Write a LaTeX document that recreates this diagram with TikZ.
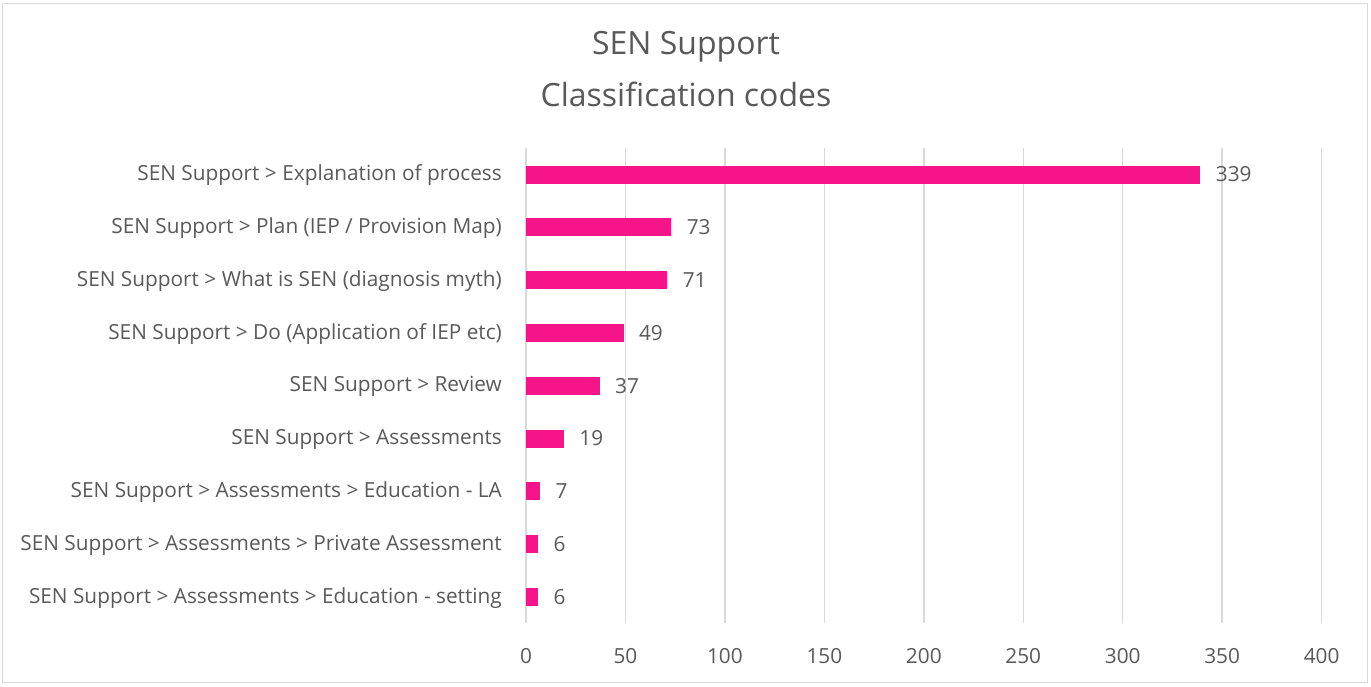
\documentclass[tikz,border=0pt]{standalone}
\usepackage{fontspec}
\setmainfont{Open Sans}
\definecolor{barpink}{HTML}{F5148A}
\definecolor{txt}{HTML}{595959}
\definecolor{gridc}{HTML}{D9D9D9}
\begin{document}
\begin{tikzpicture}[x=1pt,y=-1pt,
  border/.style={draw=gridc, line width=1.2pt},
  gridline/.style={draw=gridc, line width=1.5pt},
  bar/.style={fill=barpink, draw=none, inner sep=0pt, minimum height=18pt, anchor=west},
  cat/.style={text=txt, font=\fontsize{20.8}{24}\selectfont, anchor=east, inner sep=0pt},
  val/.style={text=txt, font=\fontsize{20.8}{24}\selectfont, anchor=west, inner sep=0pt},
  tick/.style={text=txt, font=\fontsize{20.8}{24}\selectfont, inner sep=0pt},
  ttl/.style={text=txt, font=\fontsize{32}{38}\selectfont, inner sep=0pt}]
\useasboundingbox (0,0) rectangle (1371,686);
\draw[border] (2.5,3.5) rectangle (1367.5,682.5);
\node[ttl] (t1) at (686,47) {SEN Support};
\node[ttl] (t2) at (686,94) {Classification codes};
\foreach \i in {0,...,8} {
  \pgfmathsetmacro{\gx}{526+99.45*\i}
  \pgfmathtruncatemacro{\lab}{50*\i}
  \coordinate (gtop\i) at (\gx,148);
  \coordinate (gbot\i) at (\gx,623);
  \draw[gridline] (gtop\i) -- (gbot\i);
  \node[tick] (tick\i) at (\gx,656) {\lab};
}
\foreach \v/\name [count=\k from 0] in {
  339/{SEN Support > Explanation of process},
  73/{SEN Support > Plan (IEP / Provision Map)},
  71/{SEN Support > What is SEN (diagnosis myth)},
  49/{SEN Support > Do (Application of IEP etc)},
  37/{SEN Support > Review},
  19/{SEN Support > Assessments},
  7/{SEN Support > Assessments > Education - LA},
  6/{SEN Support > Assessments > Private Assessment},
  6/{SEN Support > Assessments > Education - setting}} {
  \pgfmathsetmacro{\ry}{175.5+52.8*\k}
  \pgfmathsetmacro{\bw}{1.989*\v}
  \node[cat] (c\k) at (502,\ry) {\name};
  \node[bar, minimum width=\bw pt] (b\k) at (526,\ry-1) {};
  \node[val] (v\k) at ([xshift=15pt]b\k.east) {\v};
}
\end{tikzpicture}
\end{document}
